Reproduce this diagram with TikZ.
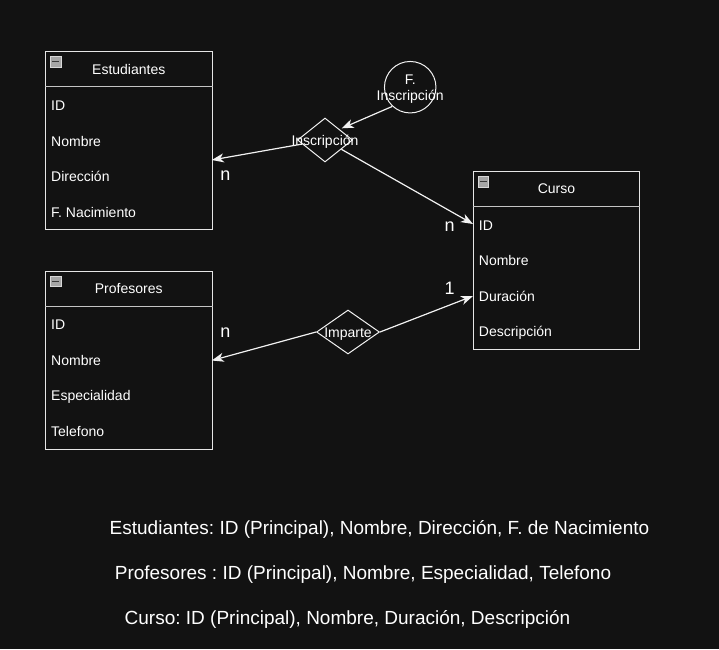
\documentclass[tikz,border=0pt]{standalone}
\usepackage{fontspec}
\setmainfont{Liberation Sans}
\frenchspacing
\usetikzlibrary{arrows.meta,shapes.geometric}
\definecolor{bg}{HTML}{121212}
\definecolor{boxline}{HTML}{E6E6E6}
\definecolor{sepline}{HTML}{C4C4C4}
\definecolor{iconfill}{HTML}{A6A6A6}
\definecolor{iconedge}{HTML}{D8D8D8}
\definecolor{iconbar}{HTML}{3A3A3A}
\definecolor{connline}{HTML}{F2F2F2}
\tikzset{
  entbox/.style={draw=boxline, line width=1pt, minimum width=166.5pt, minimum height=178pt, inner sep=0pt, anchor=north west},
  sep/.style={draw=sepline, line width=1pt},
  ttl/.style={text=white, font=\fontsize{14pt}{17pt}\selectfont, anchor=base, inner sep=0pt},
  rowtxt/.style={text=white, font=\fontsize{14pt}{17pt}\selectfont, anchor=base west, inner sep=0pt},
  iconbox/.style={draw=iconedge, fill=iconfill, line width=0.8pt, minimum width=10.5pt, minimum height=10.5pt, inner sep=0pt, anchor=north west},
  relshape/.style={diamond, draw=connline, line width=1pt, inner sep=0pt},
  reltxt/.style={text=white, font=\fontsize{14pt}{17pt}\selectfont, inner sep=0pt, anchor=base},
  attrshape/.style={circle, draw=connline, line width=1pt, minimum size=51.5pt, inner sep=0pt},
  conn/.style={draw=connline, line width=1.2pt, -{Stealth[length=12pt,width=9pt,inset=3.5pt]}},
  card/.style={text=white, font=\fontsize{18pt}{21pt}\selectfont, inner sep=0pt},
  note/.style={text=white, font=\fontsize{19pt}{22pt}\selectfont, inner sep=0pt, anchor=base}
}
\begin{document}
\begin{tikzpicture}[x=1pt,y=-1pt]
\fill[bg] (0,0) rectangle (719,649);
\useasboundingbox (0,0) rectangle (719,649);

% Estudiantes
\node[entbox] (est) at (45,51) {};
\draw[sep] ([yshift=-35.7pt]est.north west) -- ([yshift=-35.7pt]est.north east);
\node[iconbox] (esticon) at ([xshift=5pt,yshift=-5pt]est.north west) {};
\draw[iconbar, line width=1.6pt] ([xshift=2pt]esticon.west) -- ([xshift=-2pt]esticon.east);
\node[ttl] (estt) at ([yshift=-23.3pt]est.north) {Estudiantes};
\node[rowtxt] (est1) at ([xshift=6pt,yshift=-59.5pt]est.north west) {ID};
\node[rowtxt] (est2) at ([xshift=6pt,yshift=-95pt]est.north west) {Nombre};
\node[rowtxt] (est3) at ([xshift=6pt,yshift=-130.5pt]est.north west) {Dirección};
\node[rowtxt] (est4) at ([xshift=6pt,yshift=-166pt]est.north west) {F. Nacimiento};

% Profesores
\node[entbox] (pro) at (45,270.7) {};
\draw[sep] ([yshift=-35.7pt]pro.north west) -- ([yshift=-35.7pt]pro.north east);
\node[iconbox] (proicon) at ([xshift=5pt,yshift=-5pt]pro.north west) {};
\draw[iconbar, line width=1.6pt] ([xshift=2pt]proicon.west) -- ([xshift=-2pt]proicon.east);
\node[ttl] (prot) at ([yshift=-22.6pt]pro.north) {Profesores};
\node[rowtxt] (pro1) at ([xshift=6pt,yshift=-59pt]pro.north west) {ID};
\node[rowtxt] (pro2) at ([xshift=6pt,yshift=-94.5pt]pro.north west) {Nombre};
\node[rowtxt] (pro3) at ([xshift=6pt,yshift=-130pt]pro.north west) {Especialidad};
\node[rowtxt] (pro4) at ([xshift=6pt,yshift=-165.5pt]pro.north west) {Telefono};

% Curso
\node[entbox] (cur) at (472.7,171) {};
\draw[sep] ([yshift=-35.7pt]cur.north west) -- ([yshift=-35.7pt]cur.north east);
\node[iconbox] (curicon) at ([xshift=5pt,yshift=-5pt]cur.north west) {};
\draw[iconbar, line width=1.6pt] ([xshift=2pt]curicon.west) -- ([xshift=-2pt]curicon.east);
\node[ttl] (curt) at ([yshift=-22.5pt]cur.north) {Curso};
\node[rowtxt] (cur1) at ([xshift=6pt,yshift=-59.3pt]cur.north west) {ID};
\node[rowtxt] (cur2) at ([xshift=6pt,yshift=-94.8pt]cur.north west) {Nombre};
\node[rowtxt] (cur3) at ([xshift=6pt,yshift=-130.3pt]cur.north west) {Duración};
\node[rowtxt] (cur4) at ([xshift=6pt,yshift=-165.8pt]cur.north west) {Descripción};

% Relationships
\node[relshape, minimum width=55pt, minimum height=44pt, shape aspect=1.25] (ins) at (325,140) {};
\node[reltxt] (inst) at ([yshift=-5pt]ins.center) {Inscripción};
\node[relshape, minimum width=63pt, minimum height=44pt, shape aspect=1.43] (imp) at (348,332) {};
\node[reltxt] (impt) at ([yshift=-5.5pt]imp.center) {Imparte};

% Attribute
\node[attrshape] (fin) at (410.2,87.2) {};
\node[reltxt] (fint1) at ([yshift=3.2pt]fin.center) {F.};
\node[reltxt] (fint2) at ([yshift=-13.5pt]fin.center) {Inscripción};

% connector end points
\coordinate (estin) at (211.8,160);
\coordinate (insin) at (341.7,128.3);
\coordinate (curin1) at (473,224);
\coordinate (curin2) at (473,296);
\coordinate (proin) at (211.8,360.5);

\draw[conn] (fin.227) -- (insin);
\draw[conn] (ins) -- (estin);
\draw[conn] (ins) -- (curin1);
\draw[conn] (imp.east) -- (curin2);
\draw[conn] (imp.west) -- (proin);

% cardinalities
\node[card] (c1) at (225.5,175.5) {n};
\node[card] (c2) at (449.5,227) {n};
\node[card] (c3) at (449.5,288.5) {1};
\node[card] (c4) at (225.5,332.5) {n};

% notes
\node[note] (n1) at (379.5,534.3) {Estudiantes: ID (Principal), Nombre, Dirección, F. de Nacimiento};
\node[note] (n2) at (363,579) {Profesores : ID (Principal), Nombre, Especialidad, Telefono};
\node[note] (n3) at (347.5,624) {Curso: ID (Principal), Nombre, Duración, Descripción};
\end{tikzpicture}
\end{document}
